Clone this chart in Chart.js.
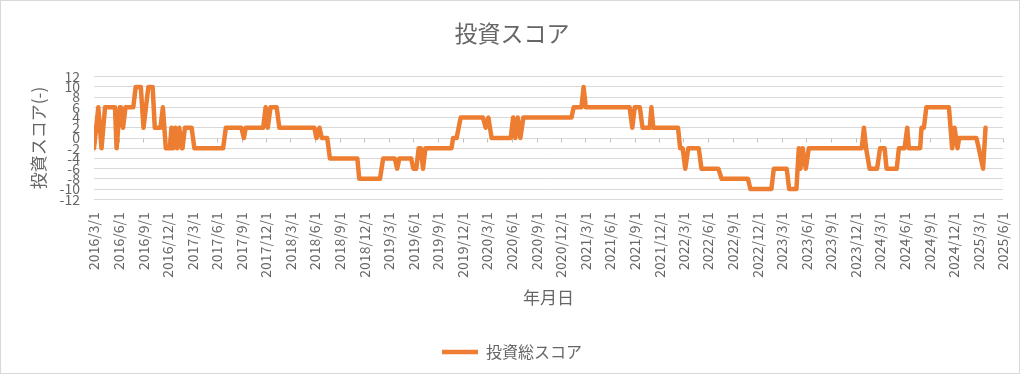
<!DOCTYPE html>
<html>
<head>
<meta charset="utf-8">
<script src="https://cdn.jsdelivr.net/npm/chart.js@4.4.1/dist/chart.umd.min.js"></script>
<style>
  body { margin: 0; background: #fff; }
  #wrap { width: 1024px; height: 378px; }
</style>
</head>
<body>
<div id="wrap"><canvas id="scoreChart" width="1024" height="378"></canvas></div>
<script>
// change points of the score (date, value)
const dates = [
  '2016/3/1', '2016/3/17', '2016/3/29', '2016/4/11', '2016/5/18', '2016/5/24', '2016/6/5', '2016/6/9',
  '2016/6/17', '2016/6/26', '2016/7/25', '2016/8/3', '2016/8/22', '2016/9/1', '2016/9/19', '2016/10/5',
  '2016/10/13', '2016/11/3', '2016/11/12', '2016/11/23', '2016/12/8', '2016/12/14', '2016/12/20', '2016/12/28',
  '2017/1/4', '2017/1/12', '2017/1/21', '2017/1/24', '2017/2/2', '2017/2/27', '2017/3/9', '2017/6/24',
  '2017/7/4', '2017/8/31', '2017/9/9', '2017/9/16', '2017/11/20', '2017/11/29', '2017/12/7', '2017/12/17',
  '2018/1/9', '2018/1/19', '2018/5/29', '2018/6/6', '2018/6/17', '2018/6/26', '2018/7/16', '2018/7/26',
  '2018/11/5', '2018/11/12', '2019/1/28', '2019/2/9', '2019/3/24', '2019/4/2', '2019/4/10', '2019/5/24',
  '2019/6/1', '2019/6/12', '2019/6/21', '2019/6/29', '2019/7/7', '2019/7/16', '2019/10/21', '2019/10/27',
  '2019/11/9', '2019/11/24', '2020/2/15', '2020/2/25', '2020/3/6', '2020/3/18', '2020/5/28', '2020/6/6',
  '2020/6/14', '2020/6/23', '2020/7/3', '2020/7/14', '2021/1/9', '2021/1/17', '2021/2/15', '2021/2/23',
  '2021/3/3', '2021/8/13', '2021/8/23', '2021/9/1', '2021/9/20', '2021/9/30', '2021/10/27', '2021/11/2',
  '2021/11/9', '2022/2/9', '2022/2/17', '2022/2/26', '2022/3/8', '2022/3/19', '2022/4/27', '2022/5/7',
  '2022/7/9', '2022/7/21', '2022/10/27', '2022/11/5', '2023/1/22', '2023/1/31', '2023/3/20', '2023/3/29',
  '2023/4/25', '2023/5/4', '2023/5/10', '2023/5/18', '2023/5/30', '2023/6/10', '2023/12/24', '2024/1/1',
  '2024/1/9', '2024/1/22', '2024/2/19', '2024/3/1', '2024/3/18', '2024/3/25', '2024/5/2', '2024/5/10',
  '2024/5/31', '2024/6/10', '2024/6/16', '2024/7/28', '2024/8/2', '2024/8/11', '2024/8/20', '2024/11/12',
  '2024/11/24', '2024/12/3', '2024/12/14', '2024/12/20', '2025/2/22', '2025/3/3', '2025/3/19', '2025/3/28'
];
const scores = [
  -2, 6, -2, 6, 6, -2, 6, 6,
  2, 6, 6, 10, 10, 2, 10, 10,
  2, 2, 6, -2, -2, 2, -2, 2,
  -2, 2, -2, -2, 2, 2, -2, -2,
  2, 2, 0, 2, 2, 6, 2, 6,
  6, 2, 2, 0, 2, 0, 0, -4,
  -4, -8, -8, -4, -4, -6, -4, -4,
  -6, -6, -2, -2, -6, -2, -2, 0,
  0, 4, 4, 2, 4, 0, 0, 4,
  0, 4, 0, 4, 4, 6, 6, 10,
  6, 6, 2, 6, 6, 2, 2, 6,
  2, 2, -2, -2, -6, -2, -2, -6,
  -6, -8, -8, -10, -10, -6, -6, -10,
  -10, -2, -6, -2, -6, -2, -2, 2,
  -2, -6, -6, -2, -2, -6, -6, -2,
  -2, 2, -2, -2, 2, 2, 6, 6,
  -2, 2, -2, 0, 0, -2, -6, 2
];
const xTickLabels = [
  '2016/3/1', '2016/6/1', '2016/9/1', '2016/12/1', '2017/3/1', '2017/6/1', '2017/9/1', '2017/12/1',
  '2018/3/1', '2018/6/1', '2018/9/1', '2018/12/1', '2019/3/1', '2019/6/1', '2019/9/1', '2019/12/1',
  '2020/3/1', '2020/6/1', '2020/9/1', '2020/12/1', '2021/3/1', '2021/6/1', '2021/9/1', '2021/12/1',
  '2022/3/1', '2022/6/1', '2022/9/1', '2022/12/1', '2023/3/1', '2023/6/1', '2023/9/1', '2023/12/1',
  '2024/3/1', '2024/6/1', '2024/9/1', '2024/12/1', '2025/3/1', '2025/6/1'
];
const yMin = -12, yMax = 12, yStep = 2;

function toDay(s) {
  const [y, m, d] = s.split('/').map(Number);
  return Date.UTC(y, m - 1, d) / 86400000;
}

const FONT = '"Noto Sans CJK JP", "Noto Sans", sans-serif';
const TEXT = '#666666';

const frame = {
  id: 'frame',
  beforeDraw(chart) {
    const ctx = chart.ctx;
    ctx.save();
    ctx.fillStyle = '#fff';
    ctx.fillRect(0, 0, chart.width, chart.height);
    ctx.strokeStyle = '#d9d9d9';
    ctx.lineWidth = 1;
    ctx.strokeRect(0.5, 0.5, 1019, 373);
    ctx.restore();
  },
  beforeDatasetsDraw(chart) {
    // tick marks hang below the zero line like Excel's crossing axis
    const ctx = chart.ctx;
    const xs = chart.scales.x, ys = chart.scales.y;
    const y0 = Math.round(ys.getPixelForValue(0)) + 0.5;
    ctx.save();
    ctx.strokeStyle = '#bfbfbf';
    ctx.lineWidth = 1;
    ctx.beginPath();
    xs.ticks.forEach(t => {
      const x = Math.round(xs.getPixelForValue(t.value)) + 0.5;
      ctx.moveTo(x, y0);
      ctx.lineTo(x, y0 + 4);
    });
    ctx.stroke();
    ctx.restore();
  }
};

new Chart(document.getElementById('scoreChart'), {
  type: 'line',
  data: {
    datasets: [{
      label: '投資総スコア',
      data: dates.map((d, i) => ({ x: toDay(d), y: scores[i] })),
      borderColor: '#ED7D31',
      backgroundColor: '#ED7D31',
      borderWidth: 4.5,
      borderJoinStyle: 'round',
      borderCapStyle: 'round',
      pointRadius: 0,
      tension: 0,
    }],
  },
  options: {
    responsive: false,
    animation: false,
    devicePixelRatio: 1,
    layout: { padding: { left: 21, right: 21, top: 0, bottom: 8 } },
    scales: {
      x: {
        type: 'linear',
        min: toDay(xTickLabels[0]),
        max: toDay(xTickLabels[xTickLabels.length - 1]),
        afterBuildTicks: axis => {
          axis.ticks = xTickLabels.map(l => ({ value: toDay(l) }));
        },
        afterFit: s => {
          s.height = 134.7;
          s.paddingLeft = 0;
          s.paddingRight = 0;
        },
        grid: { display: false, drawTicks: false },
        border: { display: false },
        ticks: {
          autoSkip: false,
          minRotation: 90,
          maxRotation: 90,
          padding: 13,
          color: TEXT,
          font: { family: FONT, size: 14 },
          callback: (v, i) => xTickLabels[i],
        },
        title: {
          display: true,
          text: '年月日',
          color: TEXT,
          font: { family: FONT, size: 17 },
          padding: { top: 0, bottom: 25.8 },
        },
      },
      y: {
        min: yMin,
        max: yMax,
        afterFit: s => { s.width = 73; },
        grid: { color: '#d9d9d9', lineWidth: 1, drawTicks: false },
        border: { display: false },
        ticks: {
          stepSize: yStep,
          autoSkip: false,
          padding: 14,
          color: TEXT,
          font: { family: FONT, size: 14 },
        },
        title: {
          display: true,
          text: '投資スコア(-)',
          color: TEXT,
          font: { family: FONT, size: 17 },
          padding: { top: 7.5, bottom: 0 },
        },
      },
    },
    plugins: {
      title: {
        display: true,
        text: '投資スコア',
        color: TEXT,
        font: { family: FONT, size: 23, weight: 'normal' },
        padding: { top: 19.2, bottom: 29.9 },
      },
      legend: {
        position: 'bottom',
        labels: {
          usePointStyle: true,
          pointStyle: 'line',
          pointStyleWidth: 36,
          padding: 10,
          color: TEXT,
          font: { family: FONT, size: 16 },
        },
      },
      tooltip: { enabled: false },
    },
  },
  plugins: [frame],
});
</script>
</body>
</html>
